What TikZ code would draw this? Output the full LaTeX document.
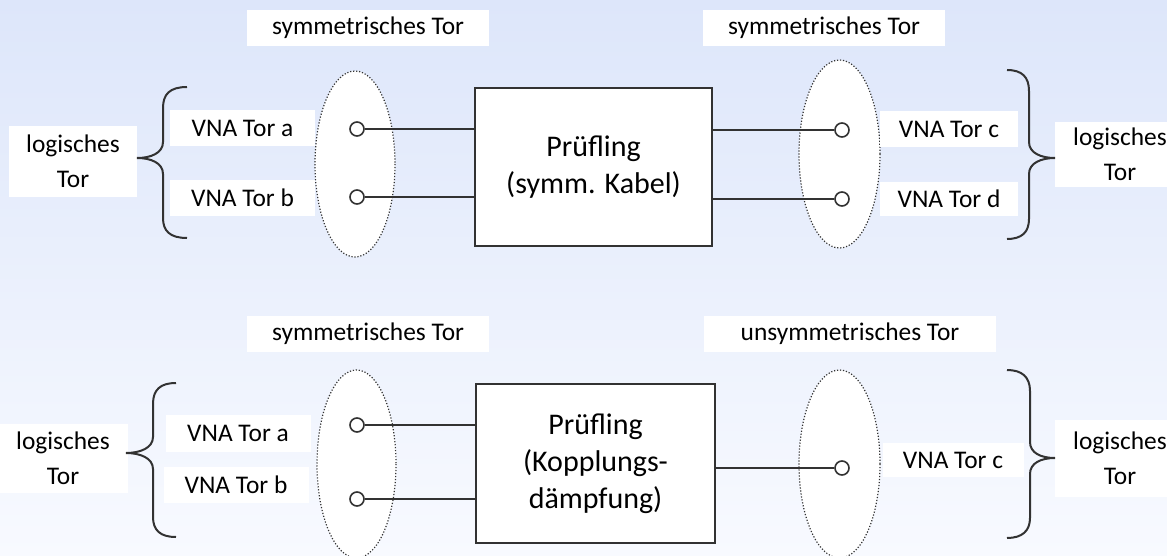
\documentclass[tikz,border=0pt]{standalone}
\usepackage{fontspec}
\setmainfont{Carlito}
\usepackage{tikz}

\definecolor{bgtop}{RGB}{221,230,250}
\definecolor{bgbot}{RGB}{248,250,255}
\definecolor{linegray}{RGB}{50,50,50}

\tikzset{
  lbl/.style={fill=white, inner sep=0pt, align=center, font=\fontsize{12.7}{17.5}\selectfont},
  dut/.style={draw=linegray, line width=1pt, fill=white, align=center, font=\fontsize{15}{18.5}\selectfont},
  port/.style={circle, draw=linegray, line width=0.8pt, fill=white, minimum size=7pt, inner sep=0pt},
  wire/.style={draw=linegray, line width=1pt},
  portring/.style={draw=black!80, fill=white, line width=0.6pt, dash pattern=on 0.6pt off 0.9pt},
  curly/.style={draw=linegray, line width=1pt},
}

\begin{document}
\begin{tikzpicture}[x=0.5pt, y=-0.5pt]
\useasboundingbox (0,0) rectangle (1167,556);
\clip (0,0) rectangle (1167,556);
\shade[top color=bgtop, bottom color=bgbot] (0,0) rectangle (1167,556);

% oberer Aufbau: symmetrisches Kabel
\draw[portring] (355,164) ellipse (40 and 93);
\draw[portring] (839.5,154) ellipse (40.5 and 94);

\node[lbl, minimum width=121pt, minimum height=18pt] (symLa) at (368,28) {symmetrisches Tor};
\node[lbl, minimum width=121pt, minimum height=18pt] (symRa) at (824,28) {symmetrisches Tor};
\node[lbl, minimum width=64pt, minimum height=35.5pt] (logLa) at (73,161.5) {logisches\\Tor};
\node[lbl, minimum width=65pt, minimum height=32.5pt] (logRa) at (1120,154.5) {logisches\\Tor};
\node[lbl, minimum width=72.5pt, minimum height=18pt] (vnaA) at (242.5,128) {VNA Tor a};
\node[lbl, minimum width=72.5pt, minimum height=18pt] (vnaB) at (242.5,198) {VNA Tor b};
\node[lbl, minimum width=69pt, minimum height=18pt] (vnaC) at (949,129) {VNA Tor c};
\node[lbl, minimum width=69pt, minimum height=17pt] (vnaD) at (949,199) {VNA Tor d};

\node[dut, minimum width=118.5pt, minimum height=79pt] (dutA) at (593.5,167) {Prüfling\\(symm. Kabel)};

\node[port] (pa) at (357,129) {};
\node[port] (pb) at (357,197) {};
\node[port] (pc) at (842,130) {};
\node[port] (pd) at (842,199) {};

\draw[wire] (pa) -- (pa -| dutA.west);
\draw[wire] (pb) -- (pb -| dutA.west);
\draw[wire] (pc) -- (pc -| dutA.east);
\draw[wire] (pd) -- (pd -| dutA.east);

\draw[curly] (187,87) .. controls (170,87) and (163,94) .. (163,108) -- (163,142)
  .. controls (163,153) and (151,158) .. (137,158)
  .. controls (151,158) and (163,163) .. (163,174) -- (163,218)
  .. controls (163,231) and (170,238) .. (187,238);
\draw[curly] (1007,70) .. controls (1022,70) and (1029,77) .. (1029,91) -- (1029,142)
  .. controls (1029,153) and (1041,158) .. (1055,158)
  .. controls (1041,158) and (1029,163) .. (1029,174) -- (1029,219)
  .. controls (1029,232) and (1022,239) .. (1007,239);

% unterer Aufbau: Kopplungsdaempfung
\draw[portring] (356.5,464) ellipse (39.5 and 94);
\draw[portring] (839.5,464) ellipse (40.5 and 94);

\node[lbl, minimum width=121pt, minimum height=18pt] (symLb) at (368,334) {symmetrisches Tor};
\node[lbl, minimum width=146pt, minimum height=18pt] (unsymRb) at (850,334) {unsymmetrisches Tor};
\node[lbl, minimum width=65pt, minimum height=34.5pt] (logLb) at (63,458.5) {logisches\\Tor};
\node[lbl, minimum width=65pt, minimum height=38.5pt] (logRb) at (1120,458.5) {logisches\\Tor};
\node[lbl, minimum width=72.5pt, minimum height=18.5pt] (vnaA2) at (238,433.5) {VNA Tor a};
\node[lbl, minimum width=72.5pt, minimum height=18pt] (vnaB2) at (236,485) {VNA Tor b};
\node[lbl, minimum width=70.5pt, minimum height=17pt] (vnaC2) at (953,460) {VNA Tor c};

\node[dut, minimum width=119.5pt, minimum height=79.5pt] (dutB) at (595.5,463.5) {Prüfling\\(Kopplungs-\\dämpfung)};

\node[port] (qa) at (357,425) {};
\node[port] (qb) at (357,499) {};
\node[port] (qc) at (842,468) {};

\draw[wire] (qa) -- (qa -| dutB.west);
\draw[wire] (qb) -- (qb -| dutB.west);
\draw[wire] (qc) -- (qc -| dutB.east);

\draw[curly] (176,383) .. controls (160,383) and (153,390) .. (153,404) -- (153,437)
  .. controls (153,448) and (140,453) .. (126,453)
  .. controls (140,453) and (153,458) .. (153,469) -- (153,517)
  .. controls (153,530) and (160,537) .. (176,537);
\draw[curly] (1007,370) .. controls (1022,370) and (1030,377) .. (1030,391) -- (1030,442)
  .. controls (1030,453) and (1041,458) .. (1055,458)
  .. controls (1041,458) and (1030,463) .. (1030,474) -- (1030,518)
  .. controls (1030,531) and (1022,538) .. (1007,538);
\end{tikzpicture}
\end{document}
